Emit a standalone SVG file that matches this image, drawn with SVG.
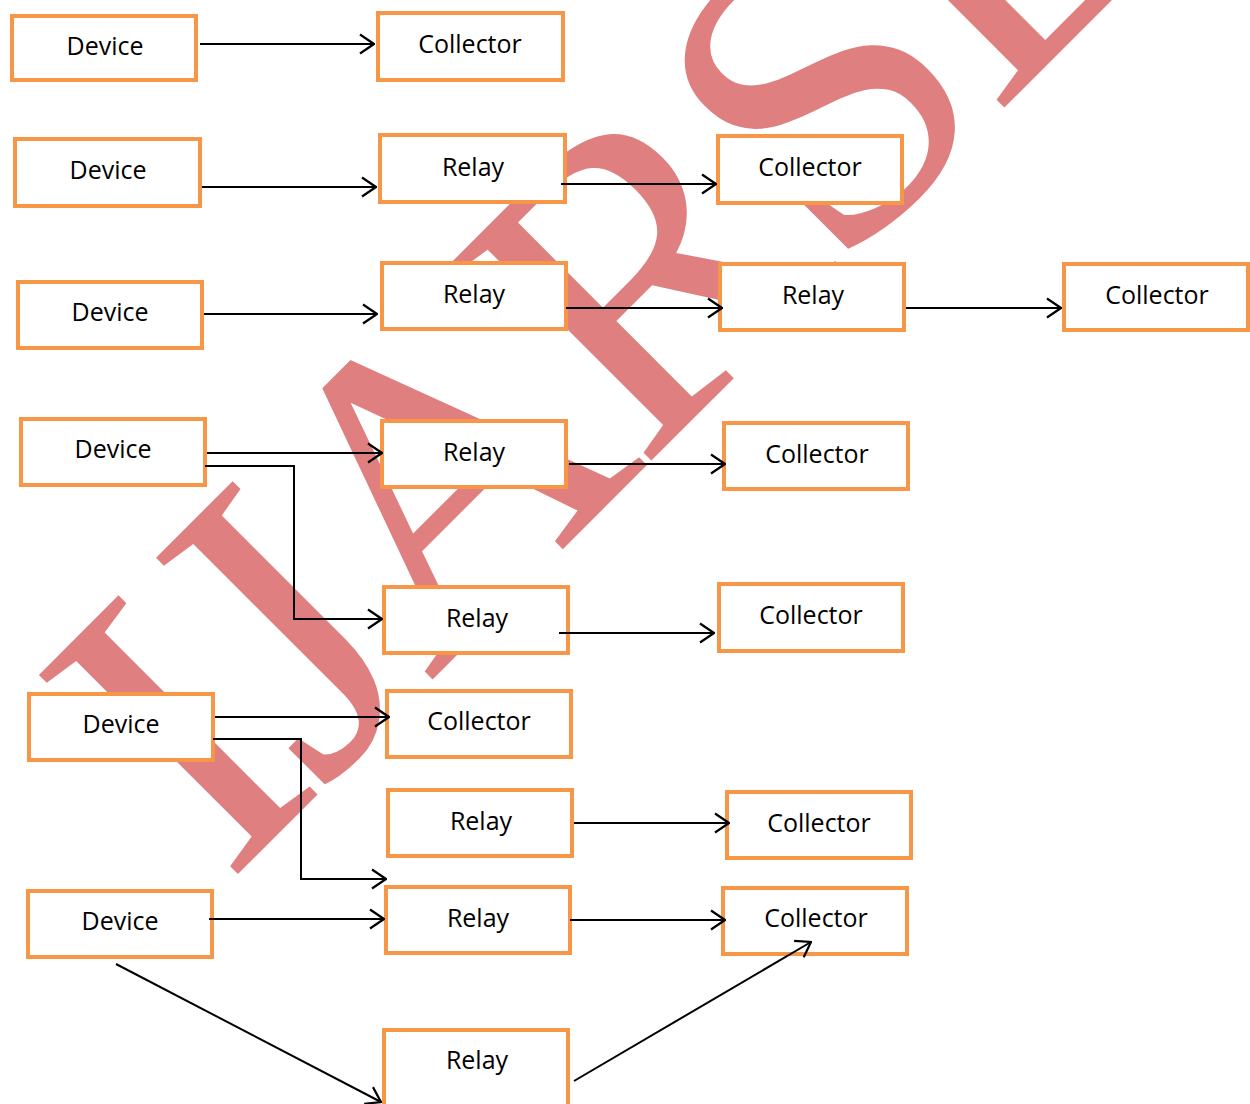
<svg xmlns="http://www.w3.org/2000/svg" width="1250" height="1104" viewBox="0 0 1250 1104">
<defs>
<marker id="ah" markerUnits="userSpaceOnUse" markerWidth="16" markerHeight="22" viewBox="0 0 16 22" refX="15" refY="11" orient="auto">
<path d="M1,1.5 L15,11 L1,20.5" fill="none" stroke="#000" stroke-width="2.2"/>
</marker>
<style>
.b{fill:#fff;stroke:#f79646;stroke-width:4}
.t{font-family:"Open Sans","Liberation Sans",sans-serif;font-size:25px;fill:#000;text-anchor:middle}
.c{fill:none;stroke:#000;stroke-width:2;marker-end:url(#ah)}
</style>
</defs>
<rect width="1250" height="1104" fill="#fff"/>
<g id="watermark">
<text x="0" y="0" transform="translate(227,885) rotate(-45)" font-family="Liberation Serif" font-size="430" letter-spacing="-12" fill="#df7f7f">IJARSE</text>
</g>
<g id="n1"><rect class="b" x="12" y="16" width="184" height="64"/><text class="t" x="105" y="55">Device</text></g>
<g id="n2"><rect class="b" x="378" y="13" width="185" height="67"/><text class="t" x="470" y="53">Collector</text></g>
<g id="n3"><rect class="b" x="15" y="139" width="185" height="67"/><text class="t" x="108" y="179">Device</text></g>
<g id="n4"><rect class="b" x="380" y="135" width="185" height="67"/><text class="t" x="473" y="176">Relay</text></g>
<g id="n5"><rect class="b" x="718" y="136" width="184" height="67"/><text class="t" x="810" y="176">Collector</text></g>
<g id="n6"><rect class="b" x="18" y="282" width="184" height="66"/><text class="t" x="110" y="321">Device</text></g>
<g id="n7"><rect class="b" x="382" y="263" width="184" height="66"/><text class="t" x="474" y="303">Relay</text></g>
<g id="n8"><rect class="b" x="720" y="264" width="184" height="66"/><text class="t" x="813" y="304">Relay</text></g>
<g id="n9"><rect class="b" x="1064" y="264" width="184" height="66"/><text class="t" x="1157" y="304">Collector</text></g>
<g id="n10"><rect class="b" x="21" y="419" width="184" height="66"/><text class="t" x="113" y="458">Device</text></g>
<g id="n11"><rect class="b" x="382" y="421" width="184" height="66"/><text class="t" x="474" y="461">Relay</text></g>
<g id="n12"><rect class="b" x="724" y="423" width="184" height="66"/><text class="t" x="817" y="463">Collector</text></g>
<g id="n13"><rect class="b" x="384" y="587" width="184" height="66"/><text class="t" x="477" y="627">Relay</text></g>
<g id="n14"><rect class="b" x="719" y="584" width="184" height="67"/><text class="t" x="811" y="624">Collector</text></g>
<g id="n15"><rect class="b" x="29" y="694" width="184" height="66"/><text class="t" x="121" y="733">Device</text></g>
<g id="n16"><rect class="b" x="387" y="691" width="184" height="66"/><text class="t" x="479" y="730">Collector</text></g>
<g id="n17"><rect class="b" x="388" y="790" width="184" height="66"/><text class="t" x="481" y="830">Relay</text></g>
<g id="n18"><rect class="b" x="727" y="792" width="184" height="66"/><text class="t" x="819" y="832">Collector</text></g>
<g id="n19"><rect class="b" x="28" y="891" width="184" height="66"/><text class="t" x="120" y="930">Device</text></g>
<g id="n20"><rect class="b" x="386" y="887" width="184" height="66"/><text class="t" x="478" y="927">Relay</text></g>
<g id="n21"><rect class="b" x="723" y="888" width="184" height="66"/><text class="t" x="816" y="927">Collector</text></g>
<g id="n22"><rect class="b" x="384" y="1030" width="184" height="80"/><text class="t" x="477" y="1069">Relay</text></g>
<g id="connectors">
<path class="c" d="M200,44 H374"/>
<path class="c" d="M202,187 H376"/>
<path class="c" d="M561,184 H716"/>
<path class="c" d="M204,314 H377"/>
<path class="c" d="M566,308 H722"/>
<path class="c" d="M906,308 H1061"/>
<path class="c" d="M207,453 H382"/>
<path class="c" d="M205,466 H294 V619 H382"/>
<path class="c" d="M569,464 H725"/>
<path class="c" d="M559,633 H714"/>
<path class="c" d="M215,717 H389"/>
<path class="c" d="M213,739 H301 V879 H386"/>
<path class="c" d="M574,823 H729"/>
<path class="c" d="M209,919 H384"/>
<path class="c" d="M570,920 H725"/>
<path class="c" d="M116,964 L381,1102"/>
<path class="c" d="M574,1081 L811,942"/>
</g>
</svg>
